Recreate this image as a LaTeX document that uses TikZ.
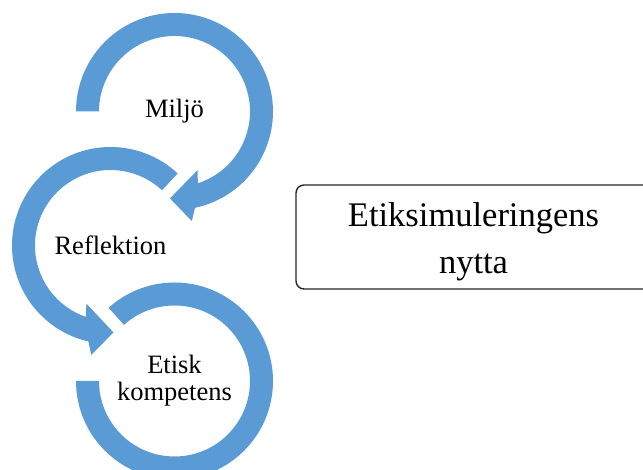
\documentclass[tikz,border=0pt]{standalone}
\usepackage{fontspec}
\setmainfont{Liberation Serif}

\definecolor{ringblue}{RGB}{91,155,213}

\begin{document}
\begin{tikzpicture}[x=1pt,y=1pt,
  ring/.style={fill=ringblue,draw=none},
  label/.style={align=center,font=\fontsize{26.5}{27}\selectfont},
  frame/.style={draw=black!85,line width=1.4pt,rounded corners=8pt},
  boxtext/.style={align=center,font=\fontsize{34.5}{47}\selectfont}]

  \useasboundingbox (0,0) rectangle (643,470);
  \clip (0,0) rectangle (643,470);

  \node[label] (miljo) at (174.5,358.5) {Miljö};
  \node[label] (reflektion) at (110.5,224.5) {Reflektion};
  \node[label] (etisk) at (174.5,89) {Etisk\\kompetens};

  % top ring, turns clockwise
  \fill[ring,shift={(miljo.center)}] (180:98.5) arc[start angle=180,end angle=-78,radius=98.5]
    -- (-81:111) -- (-93:87) -- (-68.5:63) -- (-72:75.5)
    arc[start angle=-72,end angle=180,radius=75.5] -- cycle;

  % middle ring, turns the other way
  \fill[ring,shift={(reflektion.center)}] (47:98.5) arc[start angle=47,end angle=257,radius=98.5]
    -- (260:111) -- (272:87) -- (247.5:63) -- (251:75.5)
    arc[start angle=251,end angle=47,radius=75.5] -- cycle;

  % bottom ring, no head
  \fill[ring,shift={(etisk.center)}] (180:98.5) arc[start angle=180,end angle=492,radius=98.5]
    -- (132:75.5) arc[start angle=132,end angle=-180,radius=75.5] -- cycle;

  \node[boxtext] (nytta) at (473.5,228.5) {Etiksimuleringens\\nytta};
  \draw[frame] (296,181) rectangle (651,285);
\end{tikzpicture}
\end{document}
